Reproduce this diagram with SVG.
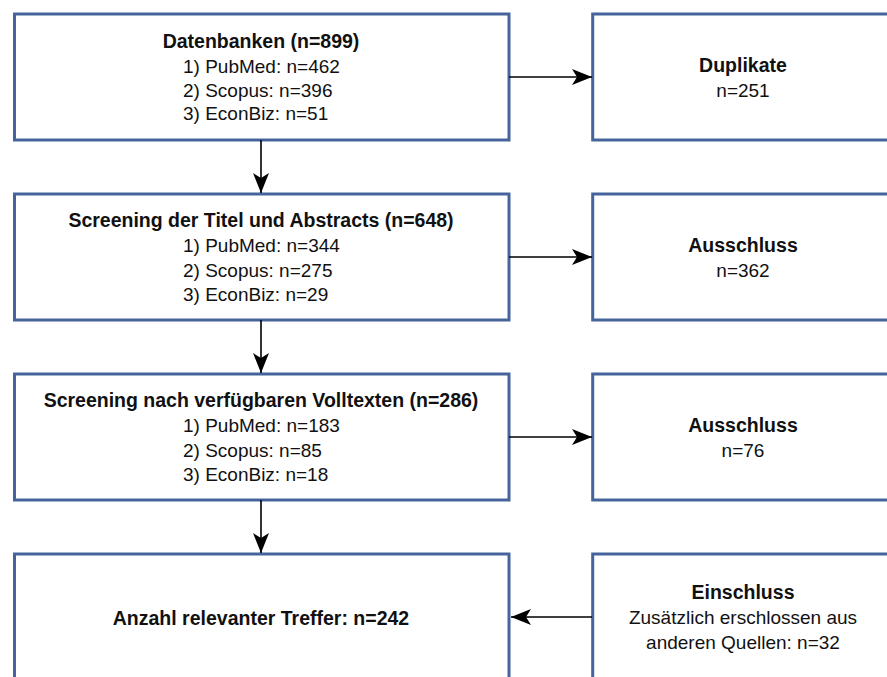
<svg xmlns="http://www.w3.org/2000/svg" width="887" height="677" viewBox="0 0 887 677">
<style>
.box{fill:#fff;stroke:#46649c;stroke-width:3}
.t{font-family:"Liberation Sans",Arial,sans-serif;font-size:19px;fill:#111}
.b{font-weight:bold;font-size:19.5px}
.c{text-anchor:middle}
.con{stroke:#000;stroke-width:1.6;fill:none}
</style>
<defs>
<marker id="ah" markerUnits="userSpaceOnUse" markerWidth="20" markerHeight="16" refX="20" refY="8" orient="auto" viewBox="0 0 20 16">
<path d="M0,0 L20,8 L0,16 L5,8 Z" fill="#000"/>
</marker>
</defs>
<rect width="887" height="677" fill="#fff"/>
<g id="n1">
<rect class="box" x="14.5" y="14" width="494.5" height="126"/>
<text class="t b c" x="261" y="48">Datenbanken (n=899)</text>
<text class="t" x="183" y="72.5">1) PubMed: n=462</text>
<text class="t" x="183" y="96.5">2) Scopus: n=396</text>
<text class="t" x="183" y="120">3) EconBiz: n=51</text>
</g>
<g id="n2">
<rect class="box" x="592.7" y="14" width="302" height="126"/>
<text class="t b c" x="743" y="72">Duplikate</text>
<text class="t c" x="743" y="96.5">n=251</text>
</g>
<g id="n3">
<rect class="box" x="14.5" y="194" width="494.5" height="126"/>
<text class="t b c" x="261" y="227">Screening der Titel und Abstracts (n=648)</text>
<text class="t" x="183" y="252">1) PubMed: n=344</text>
<text class="t" x="183" y="276.5">2) Scopus: n=275</text>
<text class="t" x="183" y="300.5">3) EconBiz: n=29</text>
</g>
<g id="n4">
<rect class="box" x="592.7" y="194" width="302" height="126"/>
<text class="t b c" x="743" y="252">Ausschluss</text>
<text class="t c" x="743" y="276.5">n=362</text>
</g>
<g id="n5">
<rect class="box" x="14.5" y="374" width="494.5" height="126"/>
<text class="t b c" x="261" y="407">Screening nach verfügbaren Volltexten (n=286)</text>
<text class="t" x="183" y="432">1) PubMed: n=183</text>
<text class="t" x="183" y="456.5">2) Scopus: n=85</text>
<text class="t" x="183" y="481">3) EconBiz: n=18</text>
</g>
<g id="n6">
<rect class="box" x="592.7" y="374" width="302" height="126"/>
<text class="t b c" x="743" y="432">Ausschluss</text>
<text class="t c" x="743" y="456.5">n=76</text>
</g>
<g id="n7">
<rect class="box" x="14.5" y="554" width="494.5" height="140"/>
<text class="t b c" x="261" y="625">Anzahl relevanter Treffer: n=242</text>
</g>
<g id="n8">
<rect class="box" x="592.7" y="554" width="302" height="140"/>
<text class="t b c" x="743" y="599">Einschluss</text>
<text class="t c" x="743" y="624">Zusätzlich erschlossen aus</text>
<text class="t c" x="743" y="649">anderen Quellen: n=32</text>
</g>
<g id="connectors">
<line class="con" x1="261" y1="140" x2="261" y2="193" marker-end="url(#ah)"/>
<line class="con" x1="261" y1="320" x2="261" y2="373" marker-end="url(#ah)"/>
<line class="con" x1="261" y1="500" x2="261" y2="553" marker-end="url(#ah)"/>
<line class="con" x1="509" y1="77" x2="592" y2="77" marker-end="url(#ah)"/>
<line class="con" x1="509" y1="257" x2="592" y2="257" marker-end="url(#ah)"/>
<line class="con" x1="509" y1="437" x2="592" y2="437" marker-end="url(#ah)"/>
<line class="con" x1="592" y1="617" x2="511" y2="617" marker-end="url(#ah)"/>
</g>
</svg>
